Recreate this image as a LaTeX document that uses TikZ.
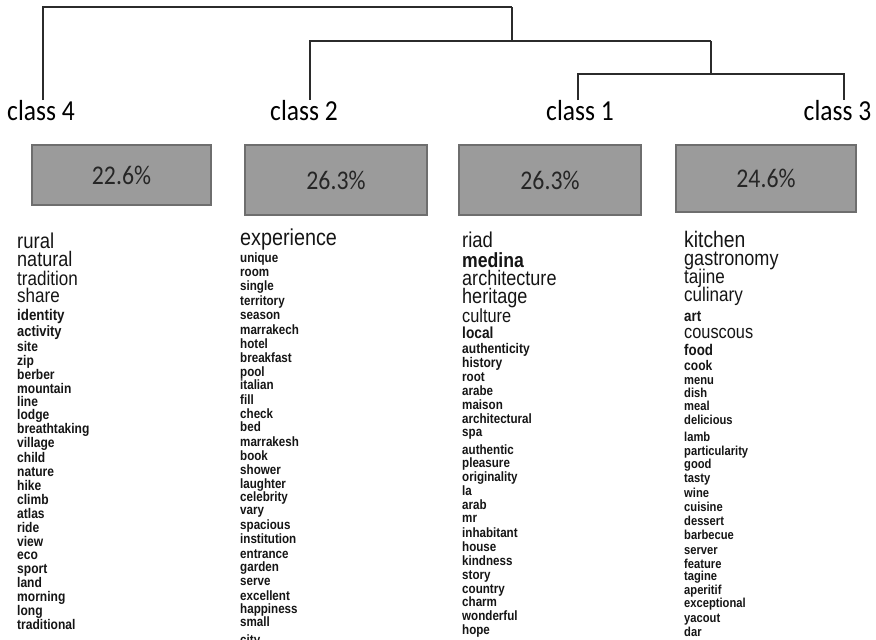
\documentclass[tikz,border=0pt]{standalone}
\usepackage{fontspec}
\setmainfont{Liberation Sans}
\newfontfamily\wf[FakeStretch=0.86]{Liberation Sans}
\newfontfamily\lf[FakeStretch=0.88]{Carlito}
\definecolor{wcol}{HTML}{151515}
\definecolor{linecol}{HTML}{2B2B2B}
\definecolor{boxfill}{HTML}{9B9B9B}
\definecolor{boxdraw}{HTML}{6E6E6E}
\begin{document}
\begin{tikzpicture}[x=1pt,y=-1pt,
  dend/.style={draw=linecol, line width=1.4pt},
  clabel/.style={inner sep=0pt, anchor=north, text=black, font=\lf\fontsize{29}{29}\selectfont},
  pbox/.style={draw=boxdraw, fill=boxfill, line width=1.1pt, inner sep=0pt, text=black!85, font=\lf\fontsize{27}{27}\selectfont},
  wA/.style={inner sep=0pt, anchor=mid west, text=wcol, font=\wf\fontsize{#1}{#1}\selectfont},
  wB/.style={inner sep=0pt, anchor=mid west, text=wcol, font=\wf\bfseries\fontsize{#1}{#1}\selectfont}
]
\useasboundingbox (0,0) rectangle (876,640);

% class labels
\node[clabel] (c4) at (41,100) {class 4};
\node[clabel] (c2) at (304,100) {class 2};
\node[clabel] (c1) at (580,100) {class 1};
\node[clabel] (c3) at (837.5,100) {class 3};

% dendrogram
\coordinate (top) at (512,7);
\coordinate (j213) at (512,41);
\coordinate (j13) at (711,74);
\draw[dend] ([xshift=-2pt]c1.north) |- (j13) -| ([xshift=6.5pt]c3.north);
\draw[dend] (j13) -- (j13 |- j213);
\draw[dend] ([xshift=6pt]c2.north) |- (j13 |- j213);
\draw[dend] (j213) -- (top);
\draw[dend] ([xshift=2pt]c4.north) |- (top);

% boxes
\node[pbox, minimum width=179pt, minimum height=60pt] (b4) at (121.5,175) {22.6\%};
\node[pbox, minimum width=182pt, minimum height=70pt] (b2) at (336,180) {26.3\%};
\node[pbox, minimum width=182pt, minimum height=70pt] (b1) at (550,180) {26.3\%};
\node[pbox, minimum width=180pt, minimum height=67pt] (b3) at (766,178.5) {24.6\%};

% class 4 words
\node[wA=21.5] (d1)  at (17,246) {rural};
\node[wA=21]   (d2)  at (17,264) {natural};
\node[wA=19.8] (d3)  at (17,283) {tradition};
\node[wA=19.8] (d4)  at (17,300) {share};
\node[wB=15.5] (d5)  at (17,318) {identity};
\node[wB=15]   (d6)  at (17,334) {activity};
\node[wB=14]   (d7)  at (17,349) {site};
\node[wB=14]   (d8)  at (17,363) {zip};
\node[wB=14]   (d9)  at (17,377) {berber};
\node[wB=14]   (d10) at (17,391) {mountain};
\node[wB=14]   (d11) at (17,404) {line};
\node[wB=14]   (d12) at (17,417) {lodge};
\node[wB=14]   (d13) at (17,431) {breathtaking};
\node[wB=14]   (d14) at (17,445) {village};
\node[wB=14]   (d15) at (17,460) {child};
\node[wB=14]   (d16) at (17,474) {nature};
\node[wB=14]   (d17) at (17,488) {hike};
\node[wB=14]   (d18) at (17,502) {climb};
\node[wB=14]   (d19) at (17,516) {atlas};
\node[wB=14]   (d20) at (17,530) {ride};
\node[wB=14]   (d21) at (17,544) {view};
\node[wB=14]   (d22) at (17,557) {eco};
\node[wB=14]   (d23) at (17,571) {sport};
\node[wB=14]   (d24) at (17,585) {land};
\node[wB=14]   (d25) at (17,599) {morning};
\node[wB=14]   (d26) at (17,613) {long};
\node[wB=14]   (d27) at (17,627) {traditional};

% class 2 words
\node[wA=23]   (e1)  at (240,243) {experience};
\node[wB=13.5] (e2)  at (240,260) {unique};
\node[wB=13.5] (e3)  at (240,274) {room};
\node[wB=13.5] (e4)  at (240,288) {single};
\node[wB=13.5] (e5)  at (240,303) {territory};
\node[wB=13.5] (e6)  at (240,317) {season};
\node[wB=13.5] (e7)  at (240,332) {marrakech};
\node[wB=13.5] (e8)  at (240,346) {hotel};
\node[wB=13.5] (e9)  at (240,360) {breakfast};
\node[wB=13.5] (e10) at (240,374) {pool};
\node[wB=13.5] (e11) at (240,387) {italian};
\node[wB=13.5] (e12) at (240,402) {fill};
\node[wB=13.5] (e13) at (240,416) {check};
\node[wB=13.5] (e14) at (240,429) {bed};
\node[wB=13.5] (e15) at (240,444) {marrakesh};
\node[wB=13.5] (e16) at (240,458) {book};
\node[wB=13.5] (e17) at (240,472) {shower};
\node[wB=13.5] (e18) at (240,486) {laughter};
\node[wB=13.5] (e19) at (240,499) {celebrity};
\node[wB=13.5] (e20) at (240,512) {vary};
\node[wB=13.5] (e21) at (240,527) {spacious};
\node[wB=13.5] (e22) at (240,541) {institution};
\node[wB=13.5] (e23) at (240,556) {entrance};
\node[wB=13.5] (e24) at (240,569) {garden};
\node[wB=13.5] (e25) at (240,583) {serve};
\node[wB=13.5] (e26) at (240,598) {excellent};
\node[wB=13.5] (e27) at (240,611) {happiness};
\node[wB=13.5] (e28) at (240,624) {small};
\node[wB=13.5] (e29) at (240,642) {city};

% class 1 words
\node[wA=21.5] (f1)  at (462,245) {riad};
\node[wB=20.5] (f2)  at (462,265) {medina};
\node[wA=21]   (f3)  at (462,283) {architecture};
\node[wA=21]   (f4)  at (462,301) {heritage};
\node[wA=19]   (f5)  at (462,320) {culture};
\node[wB=16]   (f6)  at (462,336) {local};
\node[wB=14]   (f7)  at (462,351) {authenticity};
\node[wB=14]   (f8)  at (462,365) {history};
\node[wB=13.5] (f9)  at (462,379) {root};
\node[wB=13.5] (f10) at (462,393) {arabe};
\node[wB=13.5] (f11) at (462,407) {maison};
\node[wB=13.5] (f12) at (462,421) {architectural};
\node[wB=13.5] (f13) at (462,434) {spa};
\node[wB=13.5] (f14) at (462,452) {authentic};
\node[wB=13.5] (f15) at (462,465) {pleasure};
\node[wB=13.5] (f16) at (462,479) {originality};
\node[wB=13.5] (f17) at (462,493) {la};
\node[wB=13.5] (f18) at (462,507) {arab};
\node[wB=13.5] (f19) at (462,520) {mr};
\node[wB=13.5] (f20) at (462,535) {inhabitant};
\node[wB=13.5] (f21) at (462,549) {house};
\node[wB=13.5] (f22) at (462,563) {kindness};
\node[wB=13.5] (f23) at (462,577) {story};
\node[wB=13.5] (f24) at (462,591) {country};
\node[wB=13.5] (f25) at (462,604) {charm};
\node[wB=13.5] (f26) at (462,618) {wonderful};
\node[wB=13.5] (f27) at (462,632) {hope};

% class 3 words
\node[wA=22.5] (g1)  at (684,245) {kitchen};
\node[wA=21]   (g2)  at (684,263) {gastronomy};
\node[wA=19.8] (g3)  at (684,281) {tajine};
\node[wA=19.8] (g4)  at (684,299) {culinary};
\node[wB=15.5] (g5)  at (684,319) {art};
\node[wA=19]   (g6)  at (684,336) {couscous};
\node[wB=15.5] (g7)  at (684,353) {food};
\node[wB=14]   (g8)  at (684,368) {cook};
\node[wB=13]   (g9)  at (684,382) {menu};
\node[wB=13]   (g10) at (684,395) {dish};
\node[wB=13]   (g11) at (684,408) {meal};
\node[wB=13]   (g12) at (684,422) {delicious};
\node[wB=13]   (g13) at (684,439) {lamb};
\node[wB=13]   (g14) at (684,453) {particularity};
\node[wB=13]   (g15) at (684,466) {good};
\node[wB=13]   (g16) at (684,480) {tasty};
\node[wB=13]   (g17) at (684,495) {wine};
\node[wB=13]   (g18) at (684,509) {cuisine};
\node[wB=13]   (g19) at (684,523) {dessert};
\node[wB=13]   (g20) at (684,537) {barbecue};
\node[wB=13]   (g21) at (684,552) {server};
\node[wB=13]   (g22) at (684,566) {feature};
\node[wB=13]   (g23) at (684,578) {tagine};
\node[wB=13]   (g24) at (684,592) {aperitif};
\node[wB=13]   (g25) at (684,605) {exceptional};
\node[wB=13]   (g26) at (684,620) {yacout};
\node[wB=13]   (g27) at (684,634) {dar};
\end{tikzpicture}
\end{document}
